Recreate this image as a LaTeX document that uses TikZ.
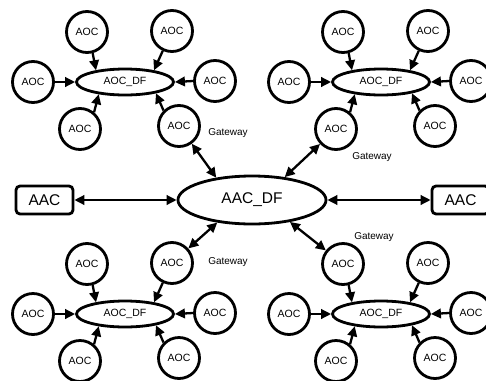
\documentclass[tikz,border=0pt]{standalone}
\usepackage{fontspec}
\setmainfont{Liberation Sans}
\usetikzlibrary{shapes.geometric,arrows.meta}

\tikzset{
    aoc/.style={circle, draw, line width=2.8pt, minimum size=41pt, inner sep=0pt,
        font=\fontsize{10.5}{12}\selectfont},
    dfnode/.style={ellipse, draw, line width=2.8pt, minimum width=97pt, minimum height=26pt,
        inner sep=0pt, font=\fontsize{10.5}{12}\selectfont},
    mainnode/.style={ellipse, draw, line width=2.8pt, minimum width=148pt, minimum height=48pt,
        inner sep=0pt, font=\fontsize{15.5}{18}\selectfont},
    aacbox/.style={rectangle, rounded corners=4pt, draw, line width=2.8pt, minimum width=57pt,
        minimum height=28pt, inner sep=0pt, font=\fontsize{15.5}{18}\selectfont},
    feed/.style={line width=2.3pt, -{Triangle[length=10pt, width=9.5pt]}},
    link/.style={line width=2.3pt, {Triangle[length=10pt, width=9.5pt]}-{Triangle[length=10pt, width=9.5pt]}},
    gwlabel/.style={font=\fontsize{10}{12}\selectfont}
}

\begin{document}
\begin{tikzpicture}[x=1pt, y=-1pt]
    \useasboundingbox (0,0) rectangle (486,380);

    % Central node and the two AAC boxes
    \node[mainnode] (main) at (252,200) {AAC\_DF};
    \node[aacbox] (aacl) at (44.5,200) {AAC};
    \node[aacbox] (aacr) at (460.5,200) {AAC};
    \draw[link] (aacl) -- (main);
    \draw[link] (main) -- (aacr);

    % Four AOC clusters
    \foreach \c/\x/\y in {tl/125/82, tr/381/82, bl/125/314, br/381/314} {
        \node[dfnode] (\c-df) at (\x,\y) {AOC\_DF};
        \foreach \i/\dx/\dy/\s/\t in {1/-38/-50/-75/158, 2/47/-51/-115/22, 3/-92/0/0/180,
                                      4/90/-1/180/0, 5/-45/47/50/205, 6/54/44/135/340} {
            \node[aoc] (\c-\i) at (\x+\dx,\y+\dy) {AOC};
            \draw[feed] (\c-\i.\s) -- (\c-df.\t);
        }
    }

    % Gateways to the central node
    \draw[link] (tl-6) -- (main.148);
    \draw[link] (tr-5) -- (main.35);
    \draw[link] (bl-2) -- (main.213);
    \draw[link] (br-1) -- (main.330);

    \node[gwlabel] (tl-gw) at (228,133) {Gateway};
    \node[gwlabel] (tr-gw) at (372,157) {Gateway};
    \node[gwlabel] (bl-gw) at (228,262) {Gateway};
    \node[gwlabel] (br-gw) at (374,237) {Gateway};

\end{tikzpicture}
\end{document}
